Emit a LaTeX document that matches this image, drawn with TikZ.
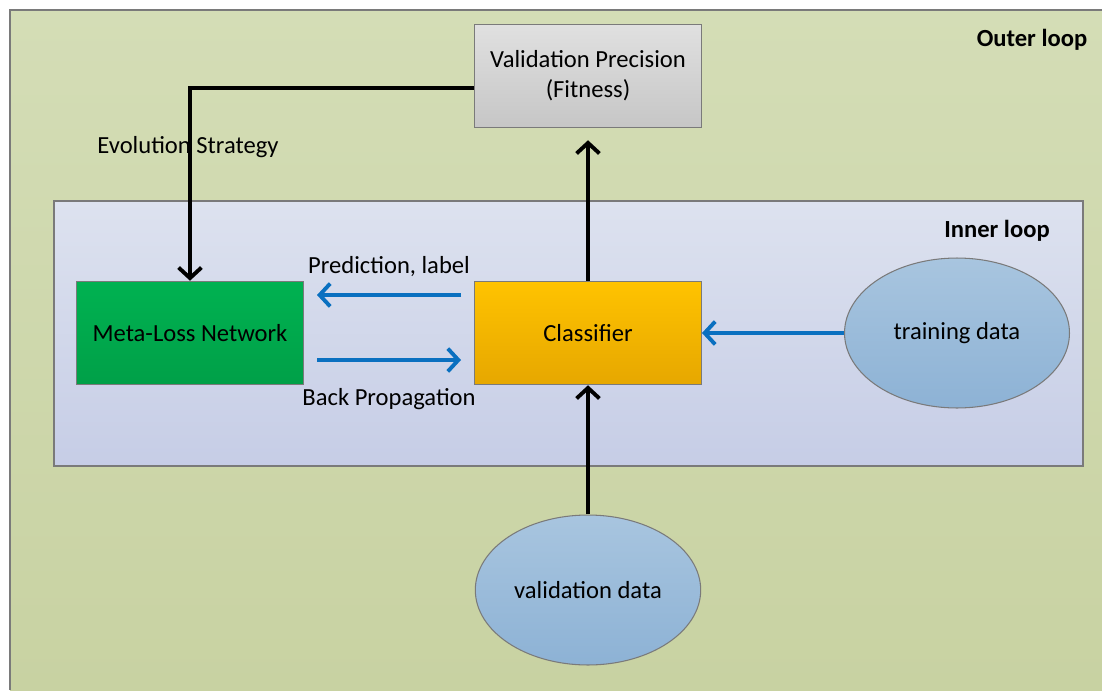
\documentclass[tikz,border=0pt]{standalone}
\usepackage{fontspec}
\setmainfont{Carlito}
\usepackage{tikz}
\usepackage{xcolor}
\usetikzlibrary{shapes.geometric, positioning, arrows.meta}
\definecolor{olivetop}{HTML}{D4DDB6}
\definecolor{olivebot}{HTML}{C8D2A2}
\definecolor{innertop}{HTML}{DDE2EF}
\definecolor{innerbot}{HTML}{C6CDE6}
\definecolor{greentop}{HTML}{00B251}
\definecolor{greenbot}{HTML}{00A048}
\definecolor{ambertop}{HTML}{FFC300}
\definecolor{amberbot}{HTML}{E6A700}
\definecolor{dattop}{HTML}{A8C5DF}
\definecolor{datbot}{HTML}{8DB2D5}
\definecolor{greytop}{HTML}{E0E0E0}
\definecolor{greybot}{HTML}{C6C6C6}
\definecolor{flowblue}{HTML}{0A70C0}
\definecolor{edge}{HTML}{7A7A7A}

\begin{document}
\begin{tikzpicture}[x=0.02cm, y=-0.02cm,
  every node/.style={font=\fontsize{14}{17}\selectfont, text=black},
  block/.style={rectangle, draw=edge, line width=0.6pt, minimum width=4.54cm, minimum height=2.07cm, align=center},
  dataset/.style={ellipse, draw=edge, line width=0.6pt, top color=dattop, bottom color=datbot, minimum width=4.5cm, minimum height=3cm},
  mainflow/.style={line width=2.2pt, -{Straight Barb[length=6pt, width=13pt, line width=2.2pt]}},
  sideflow/.style={line width=2.2pt, flowblue, -{Straight Barb[length=6pt, width=13pt, line width=2.2pt]}},
  looptag/.style={font=\fontsize{14}{17}\selectfont\bfseries}]
\useasboundingbox (0,0) rectangle (1102,690);
% outer loop
\shade[top color=olivetop, bottom color=olivebot] (10,10) rectangle (1102,690);
\draw[edge, line width=1pt] (10,690) -- (10,10) -- (1102,10);
\node[looptag] (outertag) at (1032,40) {Outer loop};
% inner loop
\draw[edge, line width=0.6pt, top color=innertop, bottom color=innerbot] (54,201) rectangle (1083,466);
\node[looptag] (innertag) at (997,231) {Inner loop};

\node[block, top color=greytop, bottom color=greybot] (fitness) at (588,76) {Validation Precision\\(Fitness)};
\node[block, top color=greentop, bottom color=greenbot] (metaloss) at (190,333) {Meta-Loss Network};
\node[block, top color=ambertop, bottom color=amberbot] (clf) at (588,333) {Classifier};
\node[dataset] (train) at (957,333) {training data};
\node[dataset] (valid) at (588,590) {validation data};

% black loop arrows
\draw[mainflow] (valid.north) -- (clf.south);
\draw[mainflow, shorten >=0.24cm] (clf.north) -- (fitness.south);
\draw[mainflow] ([shift={(0,12)}]fitness.west) -| (metaloss.north);
\node (evotag) at (188,147) {Evolution Strategy};

% blue arrows
\draw[sideflow] (train.west) -- (clf.east);
\draw[sideflow] ([shift={(-13,-38)}]clf.west) -- ([shift={(13,-38)}]metaloss.east) node[midway, above=6pt] (predtag) {Prediction, label};
\draw[sideflow] ([shift={(13,27)}]metaloss.east) -- ([shift={(-13,27)}]clf.west) node[midway, below=12pt] (backtag) {Back Propagation};
\end{tikzpicture}
\end{document}
